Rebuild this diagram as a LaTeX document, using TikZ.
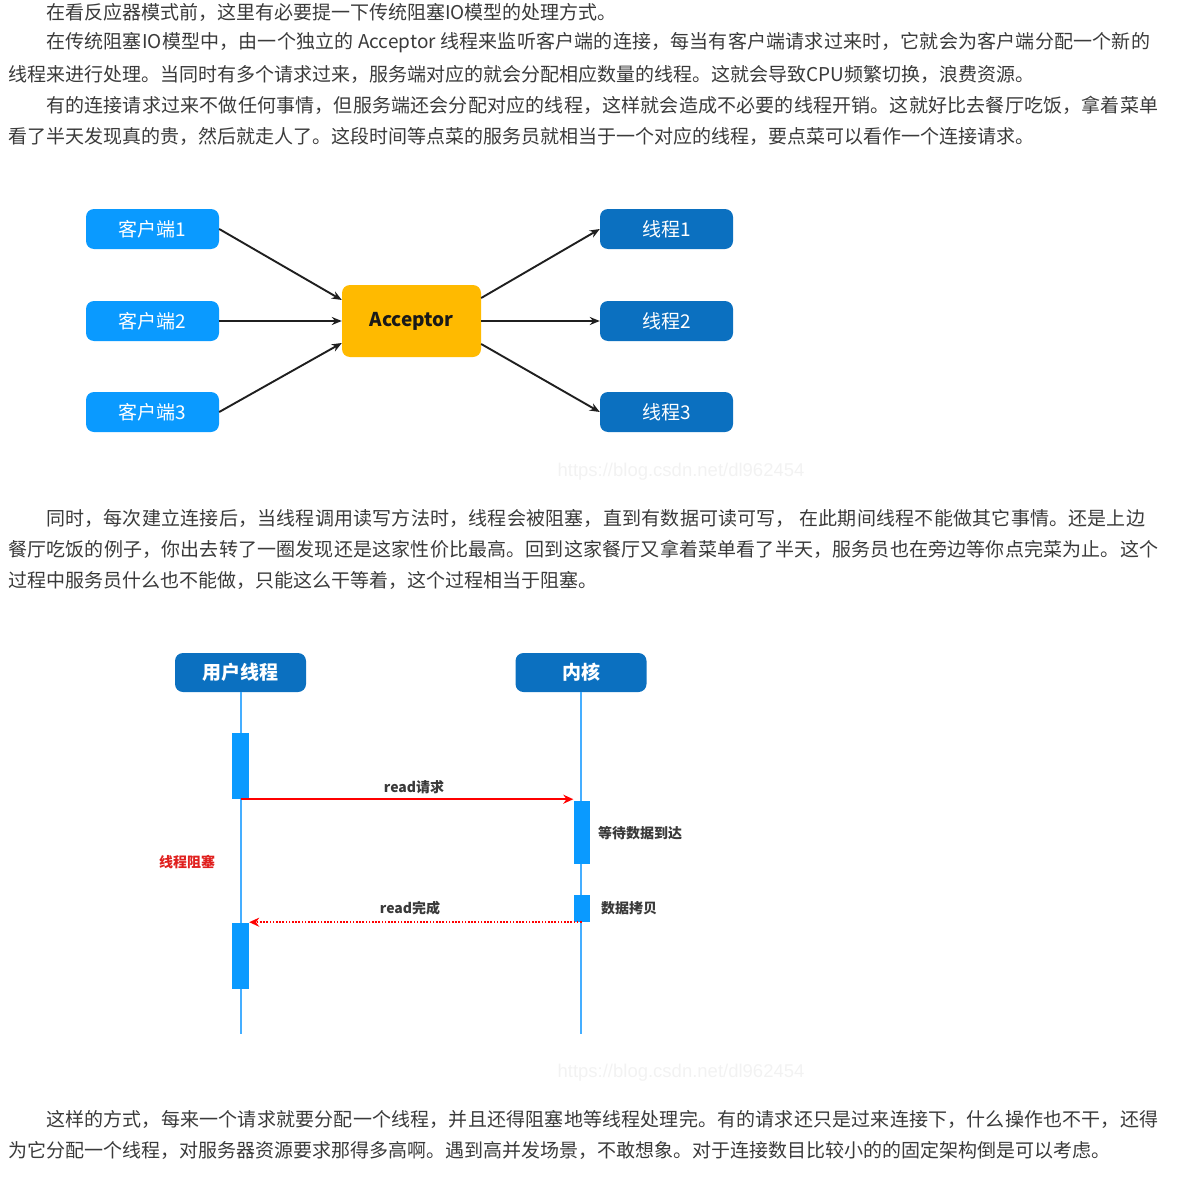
\documentclass[tikz,border=0pt]{standalone}
\usepackage{fontspec}
\setmainfont{Noto Sans CJK SC}
\newfontfamily\wmfont{Liberation Sans}
\usetikzlibrary{positioning}
\usetikzlibrary{arrows.meta}
\XeTeXlinebreaklocale "zh"
\XeTeXlinebreakskip=0pt plus 2pt
\definecolor{txtgray}{HTML}{3A3A3A}
\definecolor{lightblue}{HTML}{0A9AFF}
\definecolor{darkblue}{HTML}{0B70C0}
\definecolor{amber}{HTML}{FFBA00}
\definecolor{lifeblue}{HTML}{45AEFF}
\definecolor{blockred}{HTML}{E0201E}
\tikzset{x=1pt, y=-1pt, % one unit is one pixel, y runs downwards
    every node/.style={inner sep=0pt},
    line/.style=
    { % Sets the properties of a line of text
        anchor=west,
        text=txtgray,
        font=\fontsize{19}{23}\selectfont
    },
    fullline/.style={line, text width=#1, align=justify,
        execute at begin node={\noindent\parfillskip=0pt}}, % stretched to the right edge
    wmark/.style={text=black!5, font=\wmfont\fontsize{18.5}{22}\selectfont},
    client/.style=
    { % Sets the properties of each box
        rounded corners=8pt,
        fill=lightblue,
        text=white,
        minimum width=133pt,
        minimum height=40pt,
        font=\fontsize{19}{23}\selectfont
    },
    worker/.style={client, fill=darkblue},
    acceptor/.style={client, fill=amber, text=black!90, minimum width=139pt, minimum height=72pt,
        font=\bfseries\fontsize{19}{23}\selectfont},
    link/.style={draw=black!88, line width=1.9pt, -{Stealth[length=10pt,width=8pt]}},
    head/.style={client, fill=darkblue, minimum width=131pt, minimum height=39pt,
        font=\bfseries\fontsize{19}{23}\selectfont},
    lifeline/.style={draw=lifeblue, line width=2pt},
    bar/.style={fill=lightblue, minimum width=17pt},
    msg/.style={text=txtgray, font=\bfseries\fontsize{14}{17}\selectfont},
    req/.style={draw=red, line width=1.9pt, -{Stealth[length=10pt,width=9pt]}},
    reply/.style={req, line width=1.6pt, dash pattern=on 1.6pt off 1.6pt}
}

\begin{document}
\begin{tikzpicture}
\useasboundingbox (0,0) rectangle (1176,1177);

% text above the first picture
\node [line]           (p1) at (46,12)  {在看反应器模式前，这里有必要提一下传统阻塞IO模型的处理方式。};
\node [fullline=1104pt] (p2) at (46,43) {在传统阻塞IO模型中，由一个独立的 Acceptor 线程来监听客户端的连接，每当有客户端请求过来时，它就会为客户端分配一个新的};
\node [line]           (p3) at (8,74)   {线程来进行处理。当同时有多个请求过来，服务端对应的就会分配相应数量的线程。这就会导致CPU频繁切换，浪费资源。};
\node [fullline=1112pt] (p4) at (46,105) {有的连接请求过来不做任何事情，但服务端还会分配对应的线程，这样就会造成不必要的线程开销。这就好比去餐厅吃饭，拿着菜单};
\node [line]           (p5) at (8,136)  {看了半天发现真的贵，然后就走人了。这段时间等点菜的服务员就相当于一个对应的线程，要点菜可以看作一个连接请求。};

% clients, acceptor and threads
\node [client]   (c1)  at (152.5,229) {客户端1};
\node [client]   (c2)  at (152.5,321) {客户端2};
\node [client]   (c3)  at (152.5,412) {客户端3};
\node [acceptor] (acc) at (411.5,321) {Acceptor};
\node [worker]   (t1)  at (666.5,229) {线程1};
\node [worker]   (t2)  at (666.5,321) {线程2};
\node [worker]   (t3)  at (666.5,412) {线程3};

\draw [link] (c1.east) -- ([yshift=21pt]acc.west);
\draw [link] (c2) -- (acc);
\draw [link] (c3.east) -- ([yshift=-22pt]acc.west);
\draw [link] ([yshift=23pt]acc.east) -- (t1.west);
\draw [link] (acc) -- (t2);
\draw [link] ([yshift=-23pt]acc.east) -- (t3.west);

\node [wmark] (wm1) at (681,472) {https://blog.csdn.net/dl962454};

% text between the pictures
\node [fullline=1099pt] (p6) at (46,518) {同时，每次建立连接后，当线程调用读写方法时，线程会被阻塞，直到有数据可读可写， 在此期间线程不能做其它事情。还是上边};
\node [fullline=1150pt] (p7) at (8,549)  {餐厅吃饭的例子，你出去转了一圈发现还是这家性价比最高。回到这家餐厅又拿着菜单看了半天，服务员也在旁边等你点完菜为止。这个};
\node [line]            (p8) at (8,580)  {过程中服务员什么也不能做，只能这么干等着，这个过程相当于阻塞。};

% user thread and kernel
\node [head] (user) at (240.5,672.5) {用户线程};
\node [head] (kern) at (581,672.5)   {内核};
\coordinate (uend) at (240.5,1034);
\coordinate (kend) at (581,1034);
\draw [lifeline] (user) -- (uend);
\draw [lifeline] (kern) -- (kend);

\node [bar, minimum height=66pt] (ub1) at (240.5,766) {};
\node [bar, minimum height=66pt] (ub2) at (240.5,956) {};
\node [bar, minimum height=63pt, minimum width=16pt] (kb1) at (581.5,832.5) {};
\node [bar, minimum height=27pt, minimum width=16pt] (kb2) at (581.5,908.5) {};

\draw [req]   (ub1.south) -- (ub1.south -| kb1.west);
\draw [reply] (kb2.south) -- (kb2.south -| ub2.east);

\node [msg] (rq)  at (414,787) {read请求};
\node [msg] (rd)  at (410,908) {read完成};
\node [msg, anchor=west] (wt) at (598,833) {等待数据到达};
\node [msg, anchor=west] (cp) at (601,908) {数据拷贝};
\node [msg, text=blockred] (blk) at (187,862) {线程阻塞};

\node [wmark] (wm2) at (681,1073) {https://blog.csdn.net/dl962454};

% text below the second picture
\node [fullline=1112pt] (p9)  at (46,1119) {这样的方式，每来一个请求就要分配一个线程，并且还得阻塞地等线程处理完。有的请求还只是过来连接下，什么操作也不干，还得};
\node [line]            (p10) at (8,1150)  {为它分配一个线程，对服务器资源要求那得多高啊。遇到高并发场景，不敢想象。对于连接数目比较小的的固定架构倒是可以考虑。};
\end{tikzpicture}
\end{document}
